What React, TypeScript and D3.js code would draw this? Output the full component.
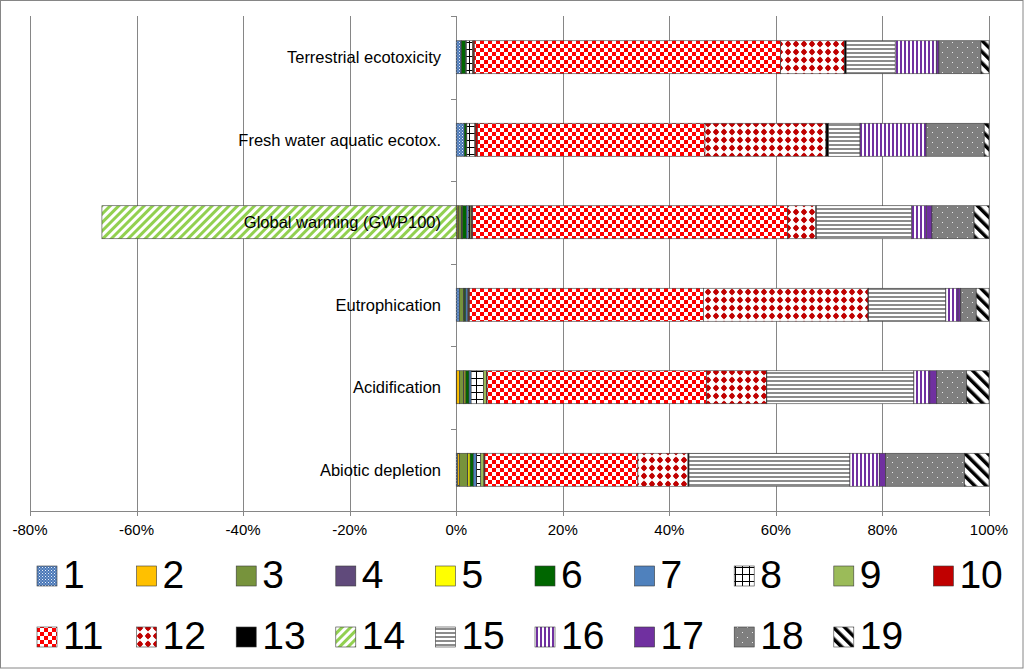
import React from "react";
import * as d3 from "d3";

const categories = [
  "Terrestrial ecotoxicity",
  "Fresh water aquatic ecotox.",
  "Global warming (GWP100)",
  "Eutrophication",
  "Acidification",
  "Abiotic depletion",
];

const seriesNames = ["1","2","3","4","5","6","7","8","9","10","11","12","13","14","15","16","17","18","19"];

// values in %, in category order above
const s1 = [0.9, 1.5, 0.2, 0.6, 0.1, 0.3];
const s2 = [0, 0, 0.2, 0, 0.5, 0.3];
const s3 = [0.1, 0, 0.6, 0.8, 0.8, 1.5];
const s4 = [0, 0, 0.1, 0.1, 0.1, 0.1];
const s5 = [0, 0, 0.1, 0, 0.3, 0.4];
const s6 = [0.8, 0.4, 0.7, 0.3, 0.6, 0.6];
const s7 = [0.1, 0.1, 0.4, 0.4, 0.4, 0.6];
const s8 = [1.2, 1.5, 0.3, 0, 2.3, 0.8];
const s9 = [0.1, 0.1, 0.3, 0.1, 0.6, 0.6];
const s10 = [0.2, 0.4, 0.2, 0.2, 0.1, 0.2];
const s11 = [57.5, 42.7, 59.1, 43.9, 41.2, 28.7];
const s12 = [12.0, 22.7, 5.3, 30.9, 11.2, 9.4];
const s13 = [0.3, 0.5, 0.1, 0.1, 0.1, 0.2];
const s14 = [0, 0, -66.5, 0, 0, 0];
const s15 = [9.2, 5.9, 17.9, 14.5, 27.6, 30.2];
const s16 = [7.7, 12.4, 2.8, 2.3, 3.0, 5.5];
const s17 = [0.5, 0, 1.0, 0.5, 1.3, 1.2];
const s18 = [7.9, 10.9, 7.9, 2.9, 5.6, 14.8];
const s19 = [1.5, 0.9, 2.8, 2.4, 4.2, 4.6];

const seriesValues = [s1, s2, s3, s4, s5, s6, s7, s8, s9, s10, s11, s12, s13, s14, s15, s16, s17, s18, s19];

const xTicks = [-80, -60, -40, -20, 0, 20, 40, 60, 80, 100];

const fills = [
  "url(#p1)", "#FFC000", "#77933C", "#604A7B", "#FFFF00", "#006600", "#4F81BD",
  "url(#p8)", "#9BBB59", "#C00000", "url(#p11)", "url(#p12)", "#000000",
  "url(#p14)", "url(#p15)", "url(#p16)", "#7030A0", "url(#p18)", "url(#p19)",
];

const FONT = "'Liberation Sans', Arial, sans-serif";

export default function App() {
  const W = 1024, H = 669;
  const x = d3.scaleLinear().domain([-80, 100]).range([30, 989]);
  const y = d3.scaleBand<string>().domain(categories).range([16, 511]).paddingInner(0.6).paddingOuter(0.3);

  const table = categories.map((c, i) => {
    const row: any = { cat: c };
    seriesNames.forEach((s, j) => (row[s] = seriesValues[j][i]));
    return row;
  });
  const stacked = d3.stack<any>().keys(seriesNames).offset(d3.stackOffsetDiverging)(table);

  const step = y.step();
  const boundaries = d3.range(categories.length + 1).map((i) => 16 + i * step);

  return (
    <svg width={W} height={H} style={{ position: "absolute", left: 0, top: 0, background: "#fff" }} fontFamily={FONT}>
      <defs>
        <pattern id="p1" width="3" height="3" patternUnits="userSpaceOnUse">
          <rect width="3" height="3" fill="#4a78b8" />
          <rect width="1" height="1" fill="#e6eef8" />
          <rect x="1.5" y="1.5" width="1" height="1" fill="#b9cbe6" />
        </pattern>
        <pattern id="p8" width="7" height="7" patternUnits="userSpaceOnUse">
          <rect width="7" height="7" fill="#fff" />
          <rect width="1" height="7" fill="#000" />
          <rect width="7" height="1" fill="#000" />
        </pattern>
        <pattern id="p11" width="8" height="8" patternUnits="userSpaceOnUse">
          <rect width="8" height="8" fill="#fff" />
          <rect width="4" height="4" fill="#FF0000" />
          <rect x="4" y="4" width="4" height="4" fill="#FF0000" />
        </pattern>
        <pattern id="p12" width="8" height="8" patternUnits="userSpaceOnUse">
          <rect width="8" height="8" fill="#fff" />
          <polygon points="4,0.5 7.2,4 4,7.5 0.8,4" fill="#C00000" />
          <circle cx="4" cy="4" r="2.4" fill="#C00000" />
        </pattern>
        <pattern id="p14" width="6" height="6" patternUnits="userSpaceOnUse" patternTransform="rotate(45)">
          <rect width="6" height="6" fill="#fff" />
          <rect width="3" height="6" fill="#92D050" />
        </pattern>
        <pattern id="p15" width="4" height="4" patternUnits="userSpaceOnUse">
          <rect width="4" height="4" fill="#fff" />
          <rect width="4" height="2" fill="#8C8C8C" />
        </pattern>
        <pattern id="p16" width="4" height="4" patternUnits="userSpaceOnUse">
          <rect width="4" height="4" fill="#fff" />
          <rect width="2" height="4" fill="#7030A0" />
        </pattern>
        <pattern id="p18" width="10" height="10" patternUnits="userSpaceOnUse">
          <rect width="10" height="10" fill="#7F7F7F" />
          <rect x="2" y="2" width="1" height="1" fill="#e8e8e8" />
          <rect x="7" y="7" width="1" height="1" fill="#e8e8e8" />
        </pattern>
        <pattern id="p19" width="8" height="8" patternUnits="userSpaceOnUse" patternTransform="rotate(-45)">
          <rect width="8" height="8" fill="#fff" />
          <rect width="3.5" height="8" fill="#000" />
        </pattern>
      </defs>

      <rect x="0.5" y="0.5" width={W - 1.5} height={H - 1.5} fill="#fff" stroke="#868686" />

      {/* gridlines */}
      {xTicks.map((t) => (
        <line key={t} x1={Math.round(x(t)) + 0.5} x2={Math.round(x(t)) + 0.5} y1={16} y2={511} stroke="#868686" strokeWidth={1} />
      ))}
      {/* category axis ticks */}
      {boundaries.map((b, i) => (
        <line key={i} x1={Math.round(x(0)) - 5} x2={Math.round(x(0)) + 0.5} y1={Math.round(b) + 0.5} y2={Math.round(b) + 0.5} stroke="#868686" />
      ))}
      <line x1={30} x2={989.5} y1={511.5} y2={511.5} stroke="#868686" />
      {xTicks.map((t) => (
        <line key={"t" + t} x1={Math.round(x(t)) + 0.5} x2={Math.round(x(t)) + 0.5} y1={511} y2={516} stroke="#868686" />
      ))}

      {/* bars */}
      {stacked.map((layer, j) => (
        <g key={layer.key} fill={fills[j]}>
          {layer.map((d, i) => {
            const v = seriesValues[j][i];
            if (!v) return null;
            const x0 = x(Math.min(d[0], d[1]));
            const x1 = x(Math.max(d[0], d[1]));
            return (
              <rect key={i} x={x0} y={y(categories[i])!} width={x1 - x0} height={y.bandwidth()} stroke="#3a3a3a" strokeWidth={0.6} />
            );
          })}
        </g>
      ))}

      {/* category labels */}
      {categories.map((c) => (
        <text key={c} x={441} y={y(c)! + y.bandwidth() / 2} dy="0.35em" textAnchor="end" fontSize={16.5} fill="#000">
          {c}
        </text>
      ))}

      {/* x axis labels */}
      {xTicks.map((t) => (
        <text key={"l" + t} x={x(t)} y={535} textAnchor="middle" fontSize={15} fill="#000">
          {t + "%"}
        </text>
      ))}

      {/* legend */}
      {seriesNames.map((s, j) => {
        const row = Math.floor(j / 10);
        const col = j % 10;
        const lx = 37 + col * 99.6;
        const ly = row === 0 ? 566 : 627;
        return (
          <g key={"lg" + s}>
            <rect x={lx} y={ly} width={20} height={20} fill={fills[j]} stroke="#3a3a3a" strokeWidth={0.6} />
            <text x={lx + 26} y={ly + 22} fontSize={39} fill="#000">
              {s}
            </text>
          </g>
        );
      })}
    </svg>
  );
}
